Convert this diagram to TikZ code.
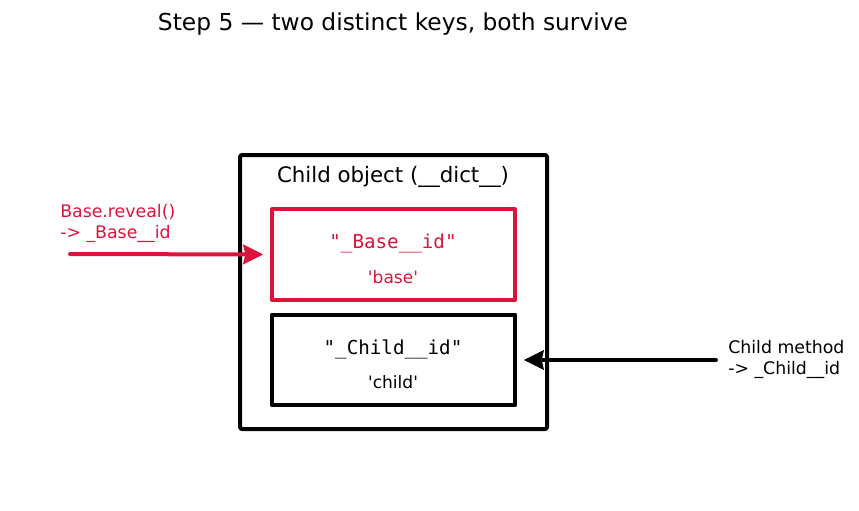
\documentclass[tikz,border=0pt]{standalone}
\usepackage{fontspec}
\setmainfont{DejaVu Sans}
\setmonofont{DejaVu Sans Mono}
\usetikzlibrary{arrows.meta,positioning}
\definecolor{keyred}{HTML}{DC143C}
\tikzset{
	dictbox/.style={draw, line width=3pt, rounded corners=1.5pt, minimum width=230.25pt, minimum height=205.5pt, inner sep=0pt},
	keybox/.style={draw, line width=3pt, minimum width=182.25pt, minimum height=68pt, inner sep=0pt},
	keytext/.style={font=\fontsize{14.4}{17}\ttfamily},
	valtext/.style={font=\fontsize{12.8}{15}\selectfont},
	note/.style={font=\fontsize{13}{15.75}\selectfont, align=left, anchor=west, inner sep=0pt},
	callarrow/.style={line width=3pt, -{Stealth[length=15pt,width=14.5pt,inset=1.5pt]}, shorten >=5pt}
}
\begin{document}
\begin{tikzpicture}[x=0.75pt, y=-0.75pt, line join=round, line cap=round]
	\useasboundingbox (0,0) rectangle (859,510);
	\node[font=\fontsize{17.5}{21}\selectfont] (title) at (393,24) {Step 5 — two distinct keys, both survive};
	% the object and its two entries
	\node[dictbox] (obj) at (393.5,292) {};
	\node[font=\fontsize{16}{19}\selectfont] (objname) at (393,177) {Child object (\_\_dict\_\_)};
	\node[keybox, draw=keyred] (basekey) at (393.5,254.5) {};
	\node[keytext, text=keyred] (basename) at (393,243) {"\_Base\_\_id"};
	\node[valtext, text=keyred] (baseval) at (393,277) {\textquotesingle base\textquotesingle};
	\node[keybox] (childkey) at (393.5,360) {};
	\node[keytext] (childname) at (393,349) {"\_Child\_\_id"};
	\node[valtext] (childval) at (393,382) {\textquotesingle child\textquotesingle};
	% who reads which key
	\node[note, text=keyred] (baselbl) at (60,223.5) {Base.reveal()\\-> \_Base\_\_id};
	\node[note] (childlbl) at (728,359.5) {Child method\\-> \_Child\_\_id};
	\coordinate (bstart) at (70,254);
	\coordinate (cstart) at (716,360);
	\draw[callarrow, keyred] (bstart) -- (basekey.west);
	\draw[callarrow] (cstart) -- (childkey.east);
\end{tikzpicture}
\end{document}
